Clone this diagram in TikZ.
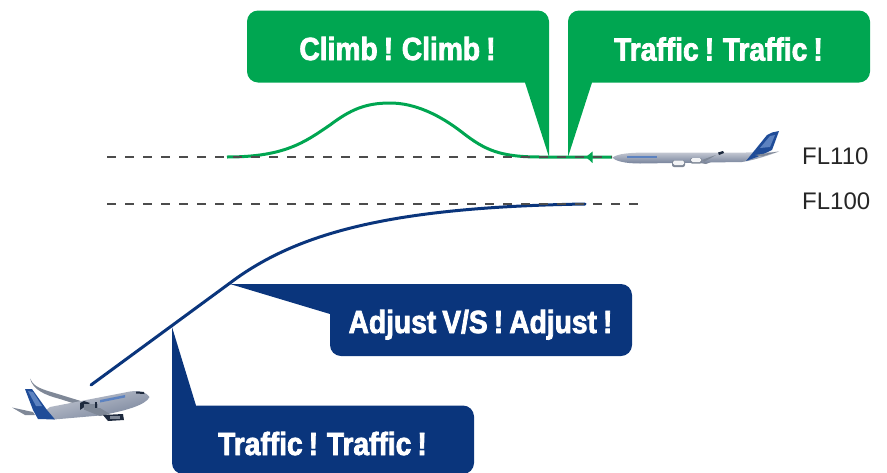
\documentclass[tikz,border=0pt]{standalone}
\usepackage{fontspec}
\setmainfont{Liberation Sans}
\newfontfamily\callfont[FakeStretch=0.88,FakeBold=2.4,WordSpace=0.78]{Liberation Sans Bold}
\definecolor{cgreen}{HTML}{00A651}
\definecolor{cblue}{HTML}{0A357C}
\definecolor{fin}{HTML}{1F4C98}
\definecolor{finlt}{HTML}{5C82C0}
\definecolor{bodytop}{HTML}{C9CDD6}
\definecolor{bodymid}{HTML}{F3F4F6}
\definecolor{bodybot}{HTML}{76829A}
\definecolor{metalc}{HTML}{7F8897}
\definecolor{darkc}{HTML}{1E2A3E}
\tikzset{
  x=1pt,y=-1pt,
  callgreen/.style={fill=cgreen,draw=none},
  callblue/.style={fill=cblue,draw=none},
  calltext/.style={text=white,font=\callfont\fontsize{32}{32}\selectfont,anchor=base,inner sep=0pt},
  fltext/.style={text=black!85,font=\fontsize{24}{24}\selectfont,anchor=base west,inner sep=0pt},
  level/.style={draw=black!70,line width=1.2pt,dash pattern=on 9pt off 9pt},
  greenpath/.style={draw=cgreen,line width=3pt},
  bluepath/.style={draw=cblue,line width=3pt,line cap=round},
  body/.style={draw=none,top color=bodytop,middle color=bodymid,bottom color=bodybot},
  dark/.style={fill=darkc,draw=none},
  metal/.style={fill=metalc,draw=none},
}
\begin{document}
\begin{tikzpicture}
\useasboundingbox (0,0) rectangle (887,472);
% level anchors
\coordinate (l1a) at (107,157); \coordinate (l1b) at (612,157);
\coordinate (l2a) at (107,204); \coordinate (l2b) at (640,204);
% flight paths
\draw[greenpath] (612,157) -- (540,157)
  .. controls (500,157) and (485,150) .. (463,133)
  .. controls (440,115) and (415,103) .. (390,103)
  .. controls (365,103) and (350,110) .. (330,125)
  .. controls (305,142) and (285,157) .. (227,157);
\fill[cgreen] (586,157) -- (592.5,151.5) -- (592.5,163) -- cycle;
\draw[bluepath] (91,385) -- (230,283)
  .. controls (300,230) and (400,207) .. (585,204);
\draw[level] (l1a) -- (l1b);
\draw[level] (l2a) -- (l2b);
% green callouts
\path[callgreen] (258,10.5) -- (538,10.5) arc[start angle=90,end angle=0,x radius=11,y radius=-11]
  -- (549,157) -- (525,82.5) -- (258,82.5)
  arc[start angle=270,end angle=180,x radius=11,y radius=-11] -- (247,21.5)
  arc[start angle=180,end angle=90,x radius=11,y radius=-11] -- cycle;
\path[callgreen] (579,10.5) -- (859,10.5) arc[start angle=90,end angle=0,x radius=11,y radius=-11]
  -- (870,71.5) arc[start angle=0,end angle=-90,x radius=11,y radius=-11]
  -- (592,82.5) -- (568,157) -- (568,21.5)
  arc[start angle=180,end angle=90,x radius=11,y radius=-11] -- cycle;
% blue callouts
\path[callblue] (230,284) -- (621,284) arc[start angle=90,end angle=0,x radius=11,y radius=-11]
  -- (632,345) arc[start angle=0,end angle=-90,x radius=11,y radius=-11]
  -- (341,356) arc[start angle=270,end angle=180,x radius=11,y radius=-11]
  -- (330,314) -- cycle;
\path[callblue] (172,327) -- (196,405.5) -- (463,405.5) arc[start angle=90,end angle=0,x radius=11,y radius=-11]
  -- (474,463) arc[start angle=0,end angle=-90,x radius=11,y radius=-11]
  -- (183,474) arc[start angle=270,end angle=180,x radius=11,y radius=-11] -- cycle;
% callout texts
\node[calltext] (climb) at (397.5,60) {Climb ! Climb !};
\node[calltext] (tgreen) at (718.5,60.5) {Traffic ! Traffic !};
\node[calltext] (adjust) at (480.5,333) {Adjust V/S ! Adjust !};
\node[calltext] (tblue) at (322.5,455) {Traffic ! Traffic !};
% flight levels
\node[fltext] (fl110) at (802,164) {FL110};
\node[fltext] (fl100) at (802,209) {FL100};
% right aircraft
\fill[metalc] (700,163) -- (712,156) -- (722,151.5) -- (724,153) -- (716,160) -- (706,164) -- cycle;
\path[body] (612.5,157.5) .. controls (618,153.5) and (630,152.5) .. (650,152.5)
  -- (745,152.5) .. controls (760,152.5) and (772,152) .. (779,151.5)
  .. controls (770,155) and (755,160) .. (742,162) -- (640,163.5)
  .. controls (625,163.5) and (615,161) .. (612.5,157.5) -- cycle;
\fill[fin] (746,161) -- (767,135) -- (772,132.5) -- (779,131) -- (775,142) -- (772,150) -- (757,157) -- cycle;
\fill[finlt] (760,148) -- (770,136) -- (775,135) -- (770,147) -- cycle;
\fill[metalc] (755,155) -- (779,151.5) -- (762,156.5) -- cycle;
\fill[dark] (718,152.5) -- (723,151) -- (724,153) -- (719,155) -- cycle;
\fill[finlt] (627,156) rectangle (657,158);
\fill[metalc,rounded corners=2pt] (672,160.5) rectangle (685,167);
\fill[bodymid,rounded corners=1.5pt] (673,160.5) rectangle (684,165);
\fill[metalc,rounded corners=2pt] (690,158) rectangle (702,163.5);
\fill[bodymid,rounded corners=1.5pt] (691,158) rectangle (701,162);
\fill[metalc] (702,160) -- (710,157) -- (716,155) -- (704,162) -- cycle;
% left aircraft
\fill[metalc] (30,378.5) .. controls (33,385) and (37,388) .. (53,392.5) -- (84,402) -- (82,406) -- (60,399)
  .. controls (45,395) and (33,390) .. (30,378.5) -- cycle;
\path[body,shading angle=15] (149.5,397) .. controls (146,392) and (140,390) .. (130,391.5)
  -- (50,407) -- (38,416) -- (54,419.5) -- (100,415.5) .. controls (125,411) and (146,405) .. (149.5,397) -- cycle;
\fill[fin] (25,389) -- (32,389) -- (47,410) -- (55,419.5) -- (38,419) -- (33,410) -- cycle;
\fill[finlt] (28,391) -- (33,392) -- (42,406) -- (36,406) -- cycle;
\fill[metalc] (12,407.5) -- (33,412) -- (35,415) -- (25,415) -- cycle;
\fill[dark] (80,403) -- (84,401) -- (90,403) -- (80,410) -- cycle;
\fill[metalc] (84,404) rectangle (98,410);
\fill[dark] (95,401.5) rectangle (97,408);
\fill[metalc] (85,410) -- (100,408) -- (110,414) -- (100,416) -- cycle;
\fill[dark] (103,415) -- (123,414) -- (124,420) -- (108,421) -- cycle;
\fill[metalc] (110,415.5) rectangle (120,419);
\fill[dark] (136,391.5) -- (144,392) -- (144.5,394) -- (136,393.5) -- cycle;
\fill[finlt] (100,400) -- (125,395) -- (125,397.5) -- (100,402.5) -- cycle;
\end{tikzpicture}
\end{document}
